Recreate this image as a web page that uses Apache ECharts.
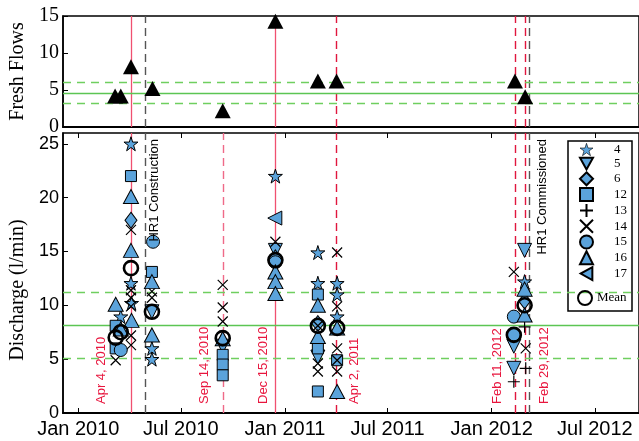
<!DOCTYPE html>
<html><head><meta charset="utf-8">
<script src="https://cdn.jsdelivr.net/npm/echarts@6/dist/echarts.min.js"></script>
<style>html,body{margin:0;padding:0;background:#fff}#c{width:639px;height:441px}</style>
</head><body><div id="c"></div>
<script>
// ---------------- DATA ----------------
const xTickDates = ['2010-01-01','2010-07-01','2011-01-01','2011-07-01','2012-01-01','2012-07-01'];
const xRange = ['2009-12-05','2012-09-17'];

const freshDates  = ['2010-03-07','2010-03-17','2010-04-04','2010-05-12','2010-09-13','2010-12-15','2011-02-28','2011-04-02','2012-02-11','2012-02-29'];
const freshValues = [4.2, 4.2, 8.15, 5.2, 2.2, 14.3, 6.2, 6.2, 6.2, 4.1];
const freshBand = [3.2, 4.6, 6.1];        // lower, mean, upper
const dischargeBand = [5.1, 8.15, 11.25]; // lower, mean, upper

const s4 = [['2010-03-17',8.95],['2010-04-04',25.0],['2010-04-04',12.05],['2010-04-05',10.2],['2010-05-11',6.0],['2010-05-11',5.0],['2010-12-15',22.0],['2011-02-28',14.9],['2011-02-28',12.05],['2011-04-03',12.05],['2011-04-03',11.0],['2011-04-03',8.95],['2012-02-28',12.2]];
const s5 = [['2010-05-11',9.4],['2010-09-13',6.2],['2010-12-15',15.1],['2011-02-28',5.2],['2012-02-09',6.2],['2012-02-09',4.15],['2012-02-28',15.1]];
const s6 = [['2010-04-04',17.9],['2010-12-15',14.4],['2011-02-28',8.3],['2012-02-28',10.4]];
const s12 = [['2010-03-08',8.1],['2010-03-08',6.0],['2010-04-04',22.0],['2010-05-11',13.1],['2010-09-13',5.4],['2010-09-13',4.5],['2010-09-13',3.5],['2011-02-28',11.0],['2011-02-28',6.0],['2011-02-28',2.0],['2011-04-03',4.9]];
const s13 = [['2012-02-09',7.1],['2012-02-09',2.9],['2012-02-28',8.0],['2012-03-01',4.15]];
const s14 = [['2010-03-08',4.9],['2010-04-04',17.0],['2010-04-04',11.4],['2010-04-04',10.7],['2010-04-04',9.9],['2010-04-04',7.2],['2010-04-04',6.3],['2010-05-11',11.3],['2010-05-11',10.7],['2010-09-13',11.9],['2010-09-13',9.8],['2010-09-13',8.5],['2010-12-15',15.9],['2011-02-28',8.1],['2011-02-28',4.6],['2011-02-28',3.85],['2011-04-03',14.9],['2011-04-03',9.9],['2011-04-03',6.0],['2011-04-03',4.9],['2011-04-03',3.85],['2012-02-09',13.1],['2012-03-01',6.0]];
const s15 = [['2010-03-17',5.85],['2010-05-13',15.9],['2010-12-15',14.0],['2012-02-09',8.95],['2012-02-09',7.3]];
const s16 = [['2010-03-08',10.1],['2010-03-17',7.8],['2010-04-04',20.1],['2010-04-04',15.1],['2010-04-05',8.6],['2010-05-11',12.2],['2010-05-11',7.25],['2010-09-13',6.9],['2010-12-15',13.1],['2010-12-15',12.2],['2010-12-15',11.1],['2011-02-28',10.0],['2011-02-28',7.1],['2011-04-03',7.9],['2011-04-03',2.0],['2012-02-28',11.5],['2012-02-28',9.1]];
const s17 = [['2010-12-14',18.1]];
const meanPts = [['2010-03-08',7.0],['2010-03-17',7.5],['2010-04-04',13.45],['2010-05-11',9.4],['2010-09-13',6.95],['2010-12-15',14.2],['2011-02-28',8.1],['2011-04-03',7.9],['2012-02-09',7.25],['2012-02-28',10.0]];

const eventDates  = ['2010-04-04','2010-04-30','2010-09-14','2010-12-15','2011-04-02','2012-02-11','2012-02-29','2012-03-07'];
const eventLabels = ['Apr 4, 2010','HR1 Construction','Sep 14, 2010','Dec 15, 2010','Apr 2, 2011','Feb 11, 2012','Feb 29, 2012','HR1 Commissioned'];

// ---------------- STYLE ----------------
function ts(s){const p=s.split('-').map(Number);return Date.UTC(p[0],p[1]-1,p[2]);}
const MONTHS=['Jan','Feb','Mar','Apr','May','Jun','Jul','Aug','Sep','Oct','Nov','Dec'];
const BLUE='#5ba3db';
const SANS='"Liberation Sans", Arial, sans-serif';
const SERIF='"Liberation Serif", "Times New Roman", serif';
const STAR='path://M50,0L61.2,34.5L97.6,34.5L68.2,55.9L79.4,90.5L50,69.1L20.6,90.5L31.8,55.9L2.4,34.5L38.8,34.5Z';
const DOWN='path://M0,0L100,0L50,90Z';
const LEFT='path://M90,0L90,100L0,50Z';
const PLUS='path://M50,0L50,100M0,50L100,50';
const CROSS='path://M0,0L100,100M100,0L0,100';

const evStyle = [
  {c:'#f05070', t:'solid', top:true,  dx:-30, anchor:'bottom', lc:'#e8163e'},
  {c:'#555555', t:[8,5],   top:true,  dx:9,   anchor:'top',    lc:'#000'},
  {c:'#ef6a88', t:[8,5],   top:false, dx:-18.5, anchor:'bottom', lc:'#e8163e'},
  {c:'#f05070', t:'solid', top:true,  dx:-12, anchor:'bottom', lc:'#e8163e'},
  {c:'#e0163e', t:[8,5],   top:true,  dx:18,  anchor:'bottom', lc:'#e8163e'},
  {c:'#e0163e', t:[8,5],   top:true,  dx:-18, anchor:'bottom', lc:'#e8163e'},
  {c:'#e0163e', t:[8,5],   top:true,  dx:19,  anchor:'bottom', lc:'#e8163e'},
  {c:'#555555', t:[8,5],   top:true,  dx:13,  anchor:'top',    lc:'#000'}
];

function vLines(topPanel){
  const out=[];
  eventDates.forEach((d,i)=>{
    const st=evStyle[i];
    if(topPanel && !st.top) return;
    out.push({xAxis:ts(d), lineStyle:{color:st.c,type:st.t,width:st.t==='solid'?1.3:1.4}});
  });
  return out;
}
function hLines(band){
  return [
    {yAxis:band[0], lineStyle:{color:'#6fcf5f',type:[8,6],width:1.3}},
    {yAxis:band[1], lineStyle:{color:'#5cc553',type:'solid',width:1.3}},
    {yAxis:band[2], lineStyle:{color:'#6fcf5f',type:[8,6],width:1.3}}
  ];
}
function pts(arr){return arr.map(p=>[ts(p[0]),p[1]]);}
function sc(name, arr, symbol, size, open){
  return {
    name:name, type:'scatter', xAxisIndex:1, yAxisIndex:1, z:3,
    symbol:symbol, symbolSize:size, data:pts(arr),
    itemStyle: open ? {color:'rgba(0,0,0,0)', borderColor:'#000', borderWidth:1.2, opacity:1}
                    : {color:BLUE, borderColor:'#000', borderWidth:1, opacity:1},
    emphasis:{disabled:true}, silent:true
  };
}

const xTicks = xTickDates.map(ts);
const xFmt = v => { const d=new Date(v); return MONTHS[d.getUTCMonth()]+' '+d.getUTCFullYear(); };
const xMin = ts(xRange[0]), xMax = ts(xRange[1]);
const legendNames = ['4','5','6','12','13','14','15','16','17'];

const chart = echarts.init(document.getElementById('c'), null, {renderer:'canvas'});
const option = {
  animation:false,
  backgroundColor:'#fff',
  grid:[
    {left:63, top:16, width:577, height:111, show:true, borderColor:'#000', borderWidth:1.5},
    {left:63, top:133, width:577, height:280, show:true, borderColor:'#000', borderWidth:1.5}
  ],
  xAxis:[
    {gridIndex:0, type:'value', min:xMin, max:xMax, scale:true,
     axisLine:{show:true,lineStyle:{color:'#000',width:2}}, axisTick:{show:false}, axisLabel:{show:false}, splitLine:{show:false}},
    {gridIndex:1, type:'value', min:xMin, max:xMax, scale:true,
     axisLine:{show:true,lineStyle:{color:'#000',width:2}},
     axisTick:{show:true, inside:true, length:5, customValues:xTicks, lineStyle:{color:'#000',width:1}},
     axisLabel:{show:true, customValues:xTicks, formatter:xFmt, fontFamily:SANS, fontSize:20, color:'#000', margin:6},
     splitLine:{show:false}},
    {gridIndex:1, type:'value', position:'top', min:xMin, max:xMax, scale:true,
     axisLine:{show:false},
     axisTick:{show:true, inside:true, length:5, customValues:xTicks, lineStyle:{color:'#000',width:1}},
     axisLabel:{show:false}, splitLine:{show:false}}
  ],
  yAxis:[
    {gridIndex:0, type:'value', min:0, max:15, interval:5,
     axisLine:{show:true,lineStyle:{color:'#000',width:1.5}},
     axisTick:{show:true,inside:true,length:5,lineStyle:{color:'#000'}},
     axisLabel:{fontFamily:SERIF, fontSize:20, color:'#000', margin:4},
     splitLine:{show:false},
     name:'Fresh Flows', nameLocation:'middle', nameGap:33,
     nameTextStyle:{fontFamily:SERIF, fontSize:20, color:'#000'}},
    {gridIndex:1, type:'value', min:0, max:26, interval:5,
     axisLine:{show:true,lineStyle:{color:'#000',width:1.5}},
     axisTick:{show:true,inside:true,length:5,lineStyle:{color:'#000'}},
     axisLabel:{fontFamily:SANS, fontSize:18, color:'#000', margin:4, showMaxLabel:false},
     splitLine:{show:false},
     name:'Discharge (l/min)', nameLocation:'middle', nameGap:33,
     nameTextStyle:{fontFamily:SERIF, fontSize:20, color:'#000', padding:[0,34,0,0]}}
  ],
  legend:[
    {data:legendNames.map(n => n==='4' ? {name:n, itemStyle:{borderWidth:0.6}} : n),
     orient:'vertical', left:579, top:143, padding:0,
     itemWidth:13, itemHeight:13, itemGap:0.8, selectedMode:false,
     textStyle:{fontFamily:SERIF, fontSize:13, lineHeight:13, color:'#000', padding:[0,0,0,16]}},
    {data:['Mean'], orient:'vertical', left:577, top:290, padding:0, itemWidth:14, itemHeight:14, selectedMode:false,
     textStyle:{fontFamily:SERIF, fontSize:13, lineHeight:13, color:'#000', padding:0}}
  ],
  series:[
    {name:'Fresh', type:'scatter', xAxisIndex:0, yAxisIndex:0, z:3, symbol:'triangle', symbolSize:[16,15],
     itemStyle:{color:'#000', opacity:1}, silent:true,
     data:freshDates.map((d,i)=>[ts(d),freshValues[i]]),
     markLine:{silent:true, symbol:['none','none'], z:1, label:{show:false}, data:vLines(true).concat(hLines(freshBand))}},
    {name:'guides', type:'scatter', xAxisIndex:1, yAxisIndex:1, data:[], silent:true,
     markLine:{silent:true, symbol:['none','none'], z:1, label:{show:false}, data:vLines(false).concat(hLines(dischargeBand))}},
    sc('4', s4, STAR, 14),
    sc('5', s5, DOWN, 14),
    sc('6', s6, 'diamond', [12,16]),
    sc('12', s12, 'rect', 11),
    sc('13', s13, PLUS, 12, true),
    sc('14', s14, CROSS, 10, true),
    sc('15', s15, 'circle', 13),
    sc('16', s16, 'triangle', [15,14]),
    sc('17', s17, LEFT, 14),
    {name:'Mean', type:'scatter', xAxisIndex:1, yAxisIndex:1, z:4, symbol:'circle', symbolSize:14,
     itemStyle:{color:'rgba(0,0,0,0)', borderColor:'#000', borderWidth:2.6, opacity:1}, silent:true, data:pts(meanPts)}
  ]
};
chart.setOption(option);

const g=[{type:'rect', shape:{x:568,y:141,width:64,height:170}, style:{fill:'none',stroke:'#000',lineWidth:1.5}, z:0}];
eventDates.forEach((d,i)=>{
  const st=evStyle[i];
  const px=chart.convertToPixel({xAxisIndex:1}, ts(d));
  g.push({type:'text', x:px+st.dx, y:st.anchor==='bottom'?404:139, rotation:Math.PI/2, z:10,
    style:{text:eventLabels[i], fill:st.lc, font:'13px '+SANS,
      align:st.anchor==='bottom'?'left':'right', verticalAlign:'middle'}});
});
chart.setOption({graphic:g});
</script></body></html>
